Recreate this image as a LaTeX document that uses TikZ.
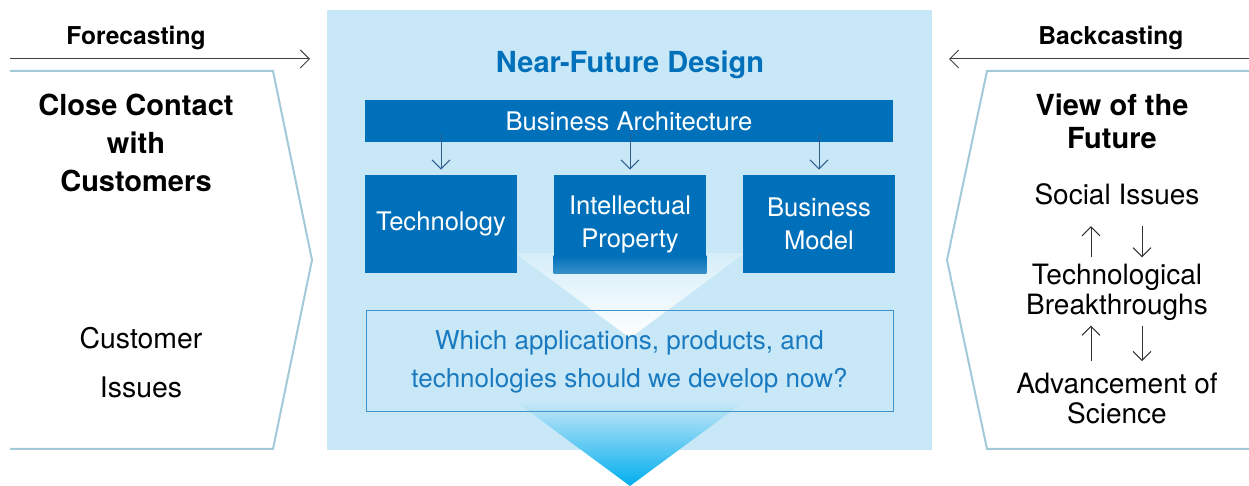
\documentclass[tikz,border=0pt]{standalone}
\usepackage{fontspec}
\setmainfont{TeX Gyre Heros}
\usepackage{xcolor}
\usepackage{tikz}
\usetikzlibrary{arrows.meta, calc}

\definecolor{bgblue}{HTML}{C8E8F7}
\definecolor{boxblue}{HTML}{0070BA}
\definecolor{panelline}{HTML}{A3C8D8}
\definecolor{qblue}{HTML}{1A7AC0}
\definecolor{qline}{HTML}{3F93CF}
\definecolor{arrblue}{HTML}{2F5E8E}
\definecolor{cyanend}{HTML}{00AEEF}

\begin{document}
\begin{tikzpicture}[x=0.5pt,y=0.5pt,
    arr/.style={-{Straight Barb[length=4.5pt,width=9pt]}, line width=0.5pt},
    panel/.style={draw=panelline, line width=1pt},
    blockbox/.style={fill=boxblue, text=white, inner sep=0pt,
        minimum width=76pt, minimum height=49pt, align=center,
        font=\fontsize{12.8}{16.5}\selectfont},
    head/.style={inner sep=0pt, align=center, font=\fontsize{14.5}{19}\selectfont\bfseries},
    side/.style={inner sep=0pt, align=center, font=\fontsize{14}{15}\selectfont}]

    \useasboundingbox (0,0) rectangle (1249,-486);

    %--------------------------------
    % 中央背景与漏斗
    %--------------------------------
    \fill[bgblue] (327,-10) rectangle (932,-450);

    \shade[top color=bgblue!75!white, bottom color=white]
        (515,-253) -- (745,-253) -- (630,-338) -- cycle;
    \shade[top color=bgblue, bottom color=cyanend]
        (515,-401) -- (745,-401) -- (630,-486) -- cycle;

    %--------------------------------
    % Near-Future Design
    %--------------------------------
    \node[head, text=boxblue] (title) at (630,-65) {Near-Future Design};

    \node[fill=boxblue, text=white, inner sep=0pt, minimum width=264pt,
        minimum height=21pt, font=\fontsize{12.8}{15}\selectfont]
        (arch) at (629,-121.5) {Business Architecture};

    \foreach \n/\x/\lab in {
        tech/441/{Technology},
        prop/630/{Intellectual\\Property},
        model/819/{Business\\Model}}{
        \node[blockbox] (\n) at (\x,-224) {\lab};
        \draw[arr, draw=arrblue] ($(\n.north |- arch.south)+(0,9)$) -- ($(\n.north)+(0,5)$);
    }

    % 漏斗压在中间框的下缘
    \shade[top color=boxblue, bottom color=boxblue!78!white]
        ($(prop.south west)+(0,18)$) rectangle (prop.south east);

    \node[draw=qline, line width=0.5pt, text=qblue, inner sep=0pt,
        minimum width=263.5pt, minimum height=50.5pt, align=center,
        font=\fontsize{13}{19}\selectfont] (quest) at (629.5,-361.5)
        {Which applications, products, and\\technologies should we develop now?};

    %--------------------------------
    % 左侧: Forecasting
    %--------------------------------
    \node[inner sep=0pt, font=\fontsize{12.3}{14}\selectfont\bfseries] (fore) at (136,-38) {Forecasting};
    \coordinate (foreA) at (10,-59);
    \coordinate (foreB) at (310,-59);
    \draw[arr, draw=black!75] (foreA) -- (foreB);

    \draw[panel] (10,-71) -- (273,-71) -- (312,-260) -- (273,-449) -- (10,-449);

    \node[head] (close) at (136,-143) {Close Contact\\with\\Customers};
    \node[inner sep=0pt, align=center, font=\fontsize{14.2}{24.5}\selectfont]
        (cust) at (141,-363) {Customer\\Issues};

    %--------------------------------
    % 右侧: Backcasting
    %--------------------------------
    \node[inner sep=0pt, font=\fontsize{12.3}{14}\selectfont\bfseries] (back) at (1111,-38) {Backcasting};
    \coordinate (backA) at (1249,-59);
    \coordinate (backB) at (949,-59);
    \draw[arr, draw=black!75] (backA) -- (backB);

    \draw[panel] (1249,-71) -- (987,-71) -- (947,-260) -- (987,-449) -- (1249,-449);

    \node[head, font=\fontsize{14.5}{16.5}\selectfont\bfseries] (view) at (1112,-121) {View of the\\Future};
    \node[side] (soc) at (1117,-194) {Social Issues};
    \node[side] (brk) at (1117,-292) {Technological\\Breakthroughs};
    \node[side] (adv) at (1117,-399) {Advancement of\\Science};

    \draw[arr, draw=black!80] ($(brk.north)+(-26,6)$) -- ($(soc.south)+(-26,-21)$);
    \draw[arr, draw=black!80] ($(soc.south)+(25,-21)$) -- ($(brk.north)+(25,6)$);
    \draw[arr, draw=black!80] ($(adv.north)+(-26,12)$) -- ($(brk.south)+(-26,-5)$);
    \draw[arr, draw=black!80] ($(brk.south)+(25,-5)$) -- ($(adv.north)+(25,12)$);

\end{tikzpicture}
\end{document}
